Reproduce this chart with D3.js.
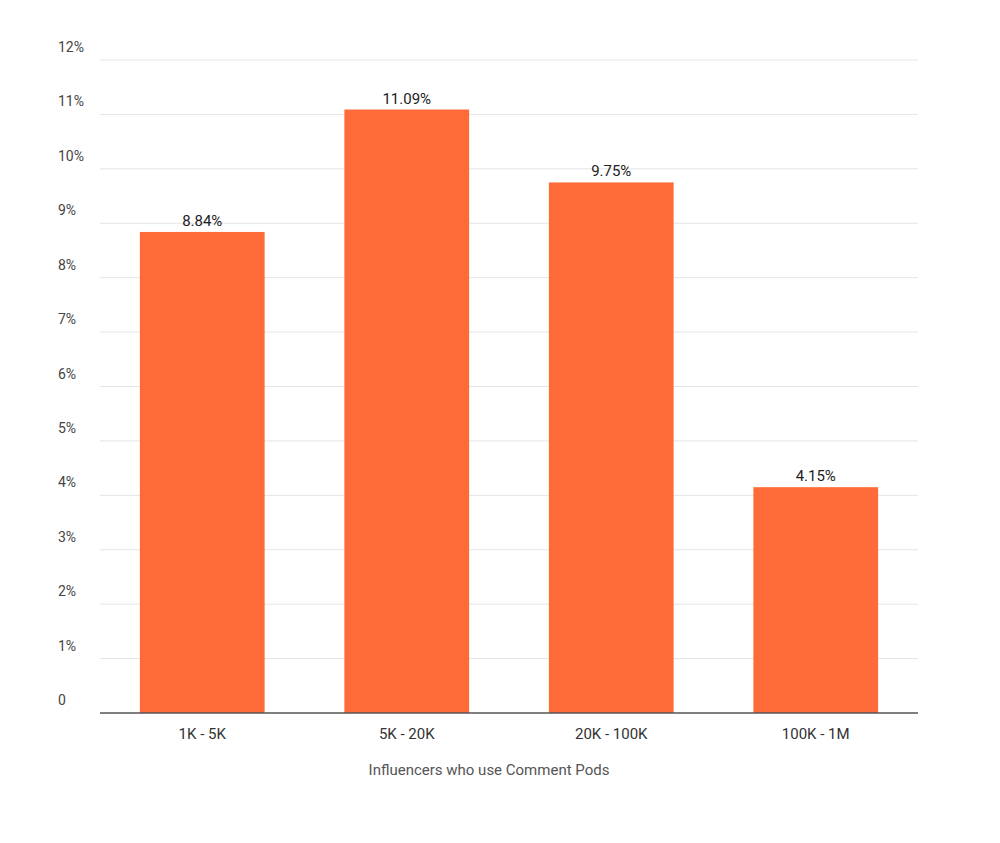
<!DOCTYPE html>
<html>
<head>
<meta charset="utf-8">
<script src="https://cdn.jsdelivr.net/npm/d3@7"></script>
<style>
  body { margin: 0; background: #fff; }
  text { font-family: Roboto, "Noto Sans", sans-serif; }
</style>
</head>
<body>
<div id="chart"></div>
<script>
// Chart data
const categories = ["1K - 5K", "5K - 20K", "20K - 100K", "100K - 1M"];
const values = [8.84, 11.09, 9.75, 4.15];
const yTicks = [0, 1, 2, 3, 4, 5, 6, 7, 8, 9, 10, 11, 12];
const xTitle = "Influencers who use Comment Pods";

const margin = {top: 60, right: 82, bottom: 130, left: 100},
      width = 1000 - margin.left - margin.right,
      height = 843 - margin.top - margin.bottom;

const svg = d3.select("#chart")
    .append("svg")
    .attr("width", 1000)
    .attr("height", 843)
    .append("g")
    .attr("transform", `translate(${margin.left},${margin.top})`);

const x = d3.scaleBand()
    .domain(categories)
    .range([0, width])
    .paddingInner(0.39)
    .paddingOuter(0.195);

const y = d3.scaleLinear()
    .domain([0, 12])
    .range([height, 0]);

// Gridlines
svg.selectAll(".grid")
    .data(yTicks.slice(1))
    .enter()
    .append("line")
    .attr("x1", 0)
    .attr("x2", width)
    .attr("y1", d => y(d))
    .attr("y2", d => y(d))
    .attr("stroke", "#e4e4e4")
    .attr("stroke-width", 1);

// Y labels
svg.selectAll(".ylab")
    .data(yTicks)
    .enter()
    .append("text")
    .attr("x", -42)
    .attr("y", d => y(d) - 8)
    .attr("font-size", 14)
    .attr("fill", "#444")
    .text(d => d === 0 ? "0" : d + "%");

// Bars
svg.selectAll(".bar")
    .data(values)
    .enter()
    .append("rect")
    .attr("x", (d, i) => x(categories[i]))
    .attr("y", d => y(d))
    .attr("width", x.bandwidth())
    .attr("height", d => height - y(d))
    .attr("fill", "#ff6a39");

// Value labels
svg.selectAll(".val")
    .data(values)
    .enter()
    .append("text")
    .attr("x", (d, i) => x(categories[i]) + x.bandwidth() / 2)
    .attr("y", d => y(d) - 6)
    .attr("text-anchor", "middle")
    .attr("font-size", 15)
    .attr("fill", "#222")
    .text(d => d.toFixed(2) + "%");

// Baseline
svg.append("line")
    .attr("x1", 0).attr("x2", width)
    .attr("y1", height).attr("y2", height)
    .attr("stroke", "#555").attr("stroke-width", 1.5);

// X axis labels
svg.selectAll(".xlab")
    .data(categories)
    .enter()
    .append("text")
    .attr("x", d => x(d) + x.bandwidth() / 2)
    .attr("y", height + 26)
    .attr("text-anchor", "middle")
    .attr("font-size", 15)
    .attr("fill", "#333")
    .text(d => d);

svg.append("text")
    .attr("x", width / 2 - 20)
    .attr("y", height + 62)
    .attr("text-anchor", "middle")
    .attr("font-size", 15)
    .attr("fill", "#555")
    .text(xTitle);
</script>
</body>
</html>
